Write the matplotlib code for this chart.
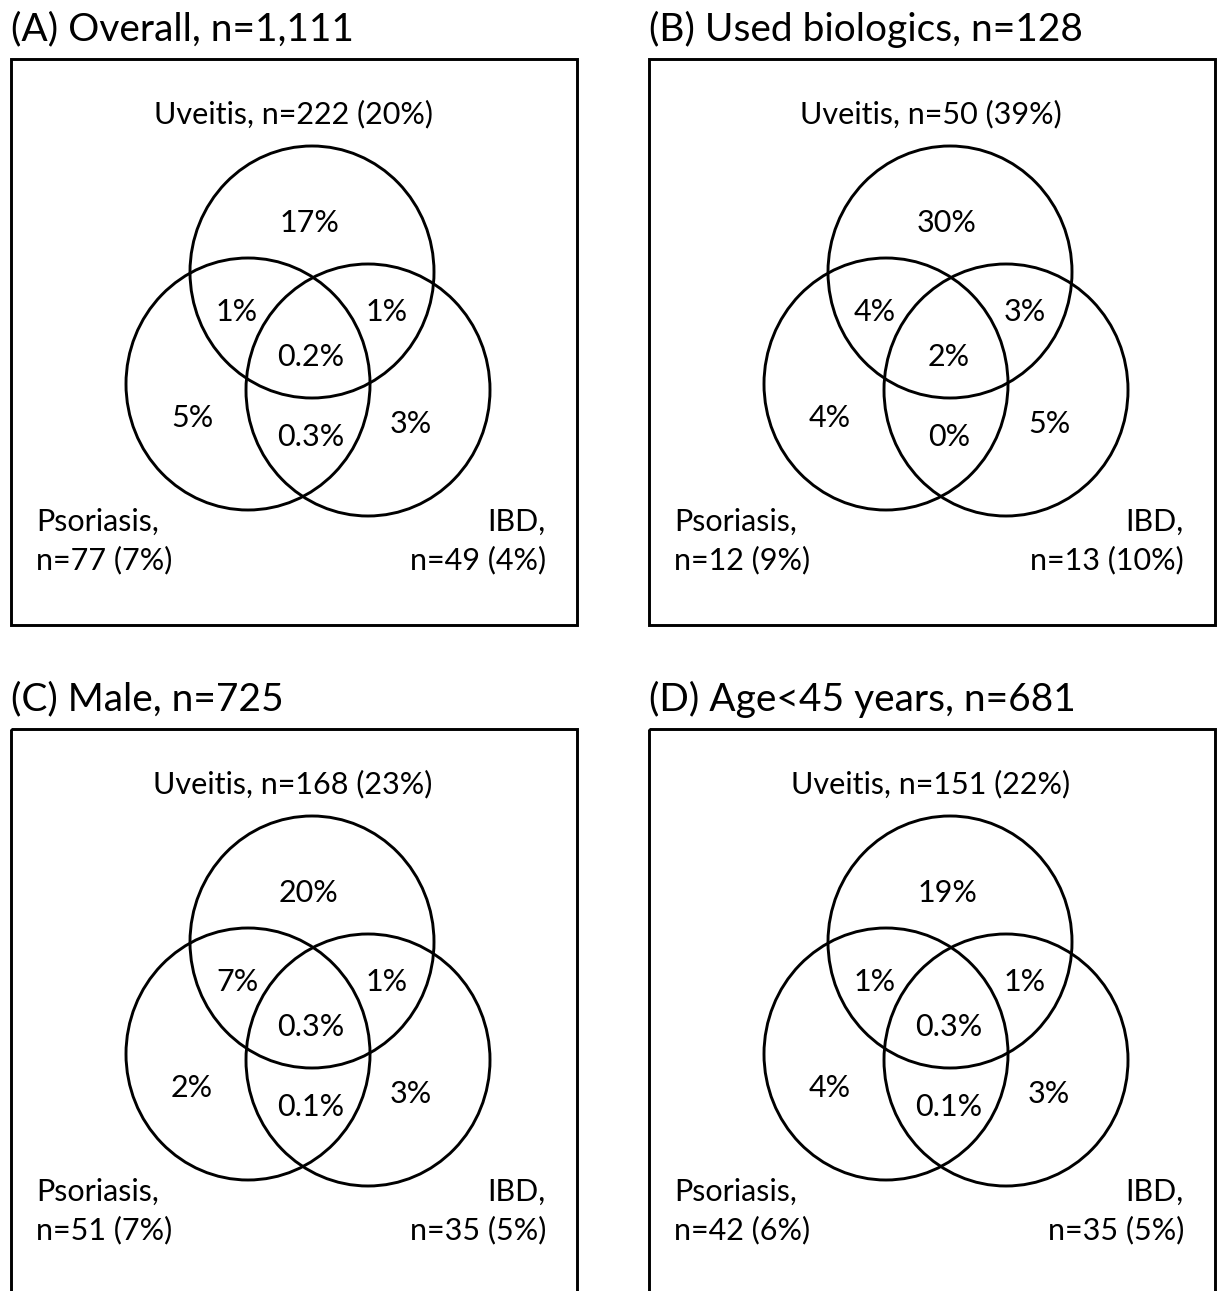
import matplotlib
matplotlib.use("Agg")
import matplotlib.pyplot as plt
from matplotlib.patches import Ellipse, Rectangle

plt.rcParams['font.family'] = ['Lato', 'DejaVu Sans']

# ---- data ----
titles = ["(A) Overall, n=1,111", "(B) Used biologics, n=128",
          "(C) Male, n=725", "(D) Age<45 years, n=681"]
uveitis_labels = ["Uveitis, n=222 (20%)", "Uveitis, n=50 (39%)",
                  "Uveitis, n=168 (23%)", "Uveitis, n=151 (22%)"]
psoriasis_labels = ["Psoriasis,\nn=77 (7%)", "Psoriasis,\nn=12 (9%)",
                    "Psoriasis,\nn=51 (7%)", "Psoriasis,\nn=42 (6%)"]
ibd_labels = ["IBD,\nn=49 (4%)", "IBD,\nn=13 (10%)",
              "IBD,\nn=35 (5%)", "IBD,\nn=35 (5%)"]
uveitis_only = ["17%", "30%", "20%", "19%"]
uveitis_psoriasis = ["1%", "4%", "7%", "1%"]
uveitis_ibd = ["1%", "3%", "1%", "1%"]
all_three = ["0.2%", "2%", "0.3%", "0.3%"]
psoriasis_only = ["5%", "4%", "2%", "4%"]
psoriasis_ibd = ["0.3%", "0%", "0.1%", "0.1%"]
ibd_only = ["3%", "5%", "3%", "3%"]

# ---- layout (pixels) ----
W, H = 1217, 1291
fig = plt.figure(figsize=(W / 100, H / 100), dpi=100)
ax = fig.add_axes([0, 0, 1, 1])
ax.set_xlim(0, W)
ax.set_ylim(H, 0)
ax.axis('off')

offsets = [(0, 0), (638, 0), (0, 670), (638, 670)]
circles = [(312, 272), (248, 384), (368, 390)]  # uveitis, psoriasis, ibd
rx, ry = 122, 126
region_pos = [(309, 223), (237, 312), (387, 312), (311, 357),
              (192, 418), (311, 437), (411, 424)]
lw = 2.1
fs_title = 28
fs_lab = 22
fs_reg = 22

for i, (ox, oy) in enumerate(offsets):
    ax.add_patch(Rectangle((ox + 11, oy + 59), 566, 566, fill=False,
                           edgecolor='black', linewidth=lw))
    ax.text(ox + 11, oy + 29, titles[i], fontsize=fs_title, ha='left',
            va='center')
    for cx, cy in circles:
        ax.add_patch(Ellipse((ox + cx, oy + cy), 2 * rx, 2 * ry, fill=False,
                             edgecolor='black', linewidth=lw))
    ax.text(ox + 293, oy + 114, uveitis_labels[i], fontsize=fs_lab,
            ha='center', va='center')
    ax.text(ox + 36, oy + 541, psoriasis_labels[i], fontsize=fs_lab,
            ha='left', va='center', linespacing=1.45)
    ax.text(ox + 546, oy + 541, ibd_labels[i], fontsize=fs_lab,
            ha='right', va='center', linespacing=1.45, multialignment='right')
    vals = [uveitis_only[i], uveitis_psoriasis[i], uveitis_ibd[i],
            all_three[i], psoriasis_only[i], psoriasis_ibd[i], ibd_only[i]]
    for (px, py), v in zip(region_pos, vals):
        ax.text(ox + px, oy + py, v, fontsize=fs_reg, ha='center',
                va='center')

fig.savefig("out.png", dpi=100, facecolor='white')
